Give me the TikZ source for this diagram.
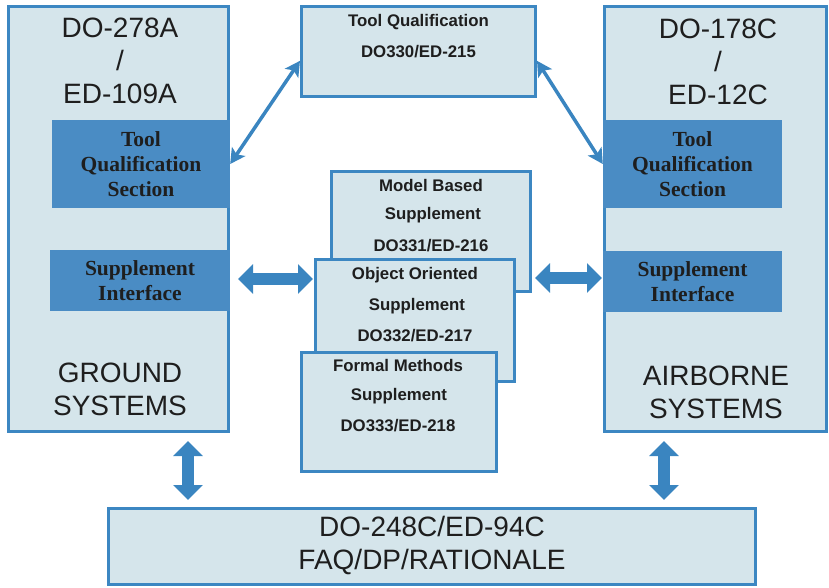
\documentclass[tikz,border=0pt]{standalone}
\usepackage{fontspec}
\setsansfont{Liberation Sans}
\newfontfamily\sectionfont{Liberation Serif}
\usetikzlibrary{arrows.meta,calc}
\definecolor{pale}{HTML}{D5E5EB}
\definecolor{edge}{HTML}{3C87C2}
\definecolor{secblue}{HTML}{4A8CC4}
\definecolor{linkblue}{HTML}{3A85C0}
\definecolor{ink}{HTML}{1E1E1E}
\begin{document}
\begin{tikzpicture}[x=1pt,y=-1pt,
  panel/.style={draw=edge, line width=3pt, fill=pale, inner sep=0pt},
  section/.style={fill=secblue, inner sep=0pt, align=center, text=ink,
    font=\sectionfont\bfseries\fontsize{21.5}{25}\selectfont},
  bigtxt/.style={font=\sffamily\fontsize{28}{33}\selectfont, align=center, text=ink},
  smalltxt/.style={font=\sffamily\bfseries\fontsize{16.8}{20}\selectfont, text=ink, inner sep=0pt},
  thinlink/.style={draw=linkblue, line width=3.5pt,
    {Stealth[length=15pt,width=16pt,inset=3.5pt]}-{Stealth[length=15pt,width=16pt,inset=3.5pt]}},
  fatlink/.style={draw=linkblue, line width=12pt,
    {Triangle[length=15pt,width=29pt]}-{Triangle[length=15pt,width=29pt]}}]
\useasboundingbox (0,0) rectangle (829,587);

% outer standard panels
\node[panel, minimum width=220pt, minimum height=425pt] (ground) at (118.5,219) {};
\node[panel, minimum width=222pt, minimum height=425pt] (air) at (715,219) {};

% dark sections inside the panels
\node[section, minimum width=178pt, minimum height=88pt] (ltq) at (141,164) {Tool\\Qualification\\Section};
\node[section, minimum width=180pt, minimum height=61pt] (lsi) at (140,280.5) {Supplement\\Interface};
\node[section, minimum width=179pt, minimum height=88pt] (rtq) at (692.5,164) {Tool\\Qualification\\Section};
\node[section, minimum width=179pt, minimum height=61pt] (rsi) at (692.5,281.5) {Supplement\\Interface};

% panel titles
\node[bigtxt] (gtitle) at (120,61) {DO-278A\\/\\ED-109A};
\node[bigtxt] (gname) at (120,389) {GROUND\\SYSTEMS};
\node[bigtxt] (atitle) at (718,62) {DO-178C\\/\\ED-12C};
\node[bigtxt] (aname) at (716,392) {AIRBORNE\\SYSTEMS};

% tool qualification document
\node[panel, minimum width=234pt, minimum height=90pt] (tq) at (418.5,51.5) {};
\node[smalltxt] (tqa) at (418.5,22) {Tool Qualification};
\node[smalltxt] (tqb) at (418.5,52) {DO330/ED-215};

% stacked supplements
\node[panel, minimum width=199pt, minimum height=120pt] (mb) at (431,231.5) {};
\node[smalltxt] (mba) at (431,185) {Model Based};
\node[smalltxt] (mbb) at (433,215) {Supplement};
\node[smalltxt] (mbc) at (431,246) {DO331/ED-216};

\node[panel, minimum width=199pt, minimum height=122pt] (oo) at (415,320.5) {};
\node[smalltxt] (ooa) at (415,275) {Object Oriented};
\node[smalltxt] (oob) at (417,306) {Supplement};
\node[smalltxt] (ooc) at (415,336) {DO332/ED-217};

\node[panel, minimum width=195pt, minimum height=119pt] (fm) at (399,412) {};
\node[smalltxt] (fma) at (398,365) {Formal Methods};
\node[smalltxt] (fmb) at (399,396) {Supplement};
\node[smalltxt] (fmc) at (398,426) {DO333/ED-218};

% supporting information
\node[panel, minimum width=647pt, minimum height=76pt] (faq) at (432,546.5) {};
\node[bigtxt] (faqtxt) at (432,545) {DO-248C/ED-94C\\FAQ/DP/RATIONALE};

% links to the tool qualification document
\coordinate (tqwest) at ($(tq.north west)!0.6!(tq.south west)$);
\coordinate (tqeast) at ($(tq.north east)!0.6!(tq.south east)$);
\draw[thinlink] (ltq.east) -- (tqwest);
\draw[thinlink] (tqeast) -- (rtq.west);

% supplement interfaces
\coordinate (lsiout) at (238,279);
\coordinate (ooin) at (313,279);
\coordinate (mbout) at (535,278);
\coordinate (rsiin) at (602,278);
\draw[fatlink] (lsiout) -- (ooin);
\draw[fatlink] (mbout) -- (rsiin);

% links down to the FAQ document
\coordinate (gout) at (188,441);
\coordinate (faqin) at (188,500);
\coordinate (aout) at (664,441);
\coordinate (faqin2) at (664,500);
\draw[fatlink] (gout) -- (faqin);
\draw[fatlink] (aout) -- (faqin2);
\end{tikzpicture}
\end{document}
